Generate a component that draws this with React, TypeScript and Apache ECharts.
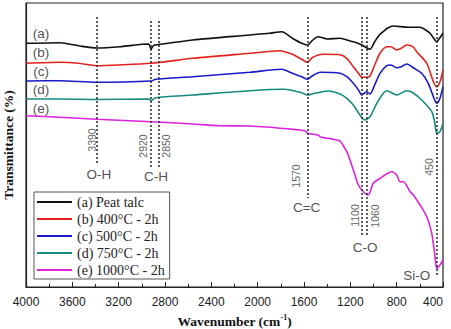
import React, { useEffect, useRef } from "react";
import * as echarts from "echarts";

// FTIR spectra of peat talc and its calcined products (offset transmittance, a.u.)
const seriesNames = [
  "(a) Peat talc",
  "(b) 400°C - 2h",
  "(c) 500°C - 2h",
  "(d) 750°C - 2h",
  "(e) 1000°C - 2h",
];
const seriesColors = ["#111111", "#e3221e", "#1b1bc8", "#168a7e", "#dc24dc"];
const curveTags = ["(a)", "(b)", "(c)", "(d)", "(e)"];
const curveTagLevels = [253.7, 234.3, 216, 197.7, 178.7];

const spectrumA: [number, number][] = [
  [4000, 243.7], [3707, 244.3], [3534, 241], [3390, 239], [3188, 240.3], [3000, 242.7],
  [2940, 243], [2920, 238], [2900, 241.5], [2880, 242], [2560, 247], [2066, 252],
  [1900, 253.7], [1792, 255.3], [1700, 248.7], [1620, 243.7], [1570, 242], [1530, 246.3],
  [1479, 250.3], [1400, 248], [1289, 248.7], [1203, 246], [1145, 244.3], [1100, 242],
  [1060, 239.3], [1030, 237.7], [990, 245.3], [950, 252], [918, 255.3], [880, 258.7],
  [832, 261], [700, 259.7], [598, 259.7], [540, 256.3], [512, 253.7], [480, 248.7],
  [454, 245.3], [430, 248.7], [400, 253.7],
];
const spectrumB: [number, number][] = [
  [4000, 223.7], [3707, 224.7], [3550, 223.7], [3390, 221.3], [3200, 222], [2920, 223.7],
  [2560, 228.7], [2066, 233.7], [1807, 236.3], [1700, 232.7], [1620, 227.7], [1570, 224.7],
  [1530, 229.3], [1435, 232.7], [1289, 232.3], [1231, 228.7], [1174, 220.3], [1130, 213.7],
  [1100, 209.7], [1060, 209.7], [1030, 211], [990, 222], [944, 233.7], [886, 240.3],
  [850, 240.3], [800, 237], [760, 238.7], [713, 242], [660, 240.3], [627, 235.3],
  [540, 223.7], [483, 205.3], [454, 200.3], [426, 205.3], [400, 217],
];
const spectrumC: [number, number][] = [
  [4000, 206], [3707, 206.3], [3390, 204.7], [2920, 206], [2880, 207.7], [2560, 210.3],
  [2066, 214.7], [1792, 217.7], [1700, 213.7], [1620, 210.3], [1570, 207.7], [1530, 211],
  [1460, 214.7], [1289, 213.7], [1231, 210.3], [1174, 203.7], [1130, 197], [1100, 192],
  [1060, 195.3], [1030, 193], [990, 202], [944, 213.7], [886, 221.3], [850, 222],
  [800, 219.3], [760, 220.3], [713, 223], [650, 218.7], [584, 213.7], [527, 203.7],
  [483, 190.3], [454, 183.7], [426, 188.7], [400, 200.3],
];
const spectrumD: [number, number][] = [
  [4000, 188], [3707, 188], [3390, 187.5], [2940, 188], [2920, 186.5], [2880, 189.3],
  [2560, 192], [2066, 196.3], [1770, 197.7], [1620, 194.3], [1570, 192], [1530, 193],
  [1390, 196], [1289, 193], [1231, 188.7], [1174, 182], [1117, 172], [1075, 167],
  [1030, 170.3], [972, 183.7], [915, 193.7], [886, 196.3], [800, 192], [713, 196.3],
  [660, 194.3], [584, 187], [497, 175.3], [470, 163.7], [454, 153.7], [426, 155.3],
  [400, 163.7],
];
const spectrumE: [number, number][] = [
  [4000, 171.3], [3707, 169.7], [3390, 167.7], [2920, 165.3], [2560, 163], [2325, 161.3],
  [2066, 161], [1634, 157], [1590, 156], [1570, 153.7], [1477, 152], [1462, 150.3],
  [1318, 147], [1289, 146], [1231, 135.3], [1203, 127], [1174, 117], [1131, 102],
  [1088, 95.3], [1045, 92], [1002, 103.7], [944, 108.7], [843, 115.3], [800, 112],
  [771, 105.3], [742, 105.3], [684, 95.3], [656, 92], [598, 82], [540, 70.3],
  [497, 53.7], [469, 30.3], [454, 18.7], [426, 22], [400, 27],
];
const spectra = [spectrumA, spectrumB, spectrumC, spectrumD, spectrumE];

// Band assignments: wavenumber, top and bottom of the dotted guide
const bandPositions = [3390, 2920, 2850, 1570, 1100, 1060, 450];
const bandTops = [270, 266, 266, 270, 270, 270, 270];
const bandBottoms = [124, 120, 120, 89, 50, 50, 12];

// Rotated wavenumber labels: text, x, y
const bandLabelTexts = ["3390", "2920", "2850", "1570", "1100", "1060", "450"];
const bandLabelX = [3430, 2987, 2794, 1669, 1160, 987, 518];
const bandLabelY = [147, 141, 141, 111, 71.5, 71, 120];

// Group names beneath the guides
const groupTexts = ["O-H", "C-H", "C=C", "C-O", "Si-O"];
const groupX = [3370, 2878, 1577, 1073, 627];
const groupY = [113, 111, 79.7, 40, 12];

const xTicks = { min: 400, max: 4000, step: 400 };

const SANS = "'Liberation Sans', Arial, sans-serif";
const SERIF = "'Liberation Serif', 'Times New Roman', serif";

export default function App() {
  const ref = useRef<HTMLDivElement>(null);

  useEffect(() => {
    if (!ref.current) return;
    const chart = echarts.init(ref.current, null, { renderer: "svg" });

    const lineSeries = spectra.map((data, i) => ({
      name: seriesNames[i],
      type: "line",
      data,
      showSymbol: false,
      symbol: "none",
      smooth: 0.25,
      lineStyle: { color: seriesColors[i], width: 1.6 },
      itemStyle: { color: seriesColors[i] },
      z: 3,
    }));

    const textItems: any[] = [];
    curveTags.forEach((t, i) =>
      textItems.push({
        value: [3870, curveTagLevels[i]],
        label: { formatter: t, fontSize: 13.5, color: "#222", fontFamily: SANS },
      })
    );
    bandLabelTexts.forEach((t, i) =>
      textItems.push({
        value: [bandLabelX[i], bandLabelY[i]],
        label: { formatter: t, rotate: 90, fontSize: 10.5, color: "#333", fontFamily: SANS },
      })
    );
    groupTexts.forEach((t, i) =>
      textItems.push({
        value: [groupX[i], groupY[i]],
        label: { formatter: t, fontSize: 13.5, color: "#222", fontFamily: SANS },
      })
    );

    const annotationSeries = {
      name: "bands",
      type: "scatter",
      symbolSize: 0,
      silent: true,
      data: textItems,
      label: { show: true, position: "inside", align: "center", verticalAlign: "middle" },
      markLine: {
        silent: true,
        symbol: ["none", "none"],
        label: { show: false },
        lineStyle: { color: "#333", width: 1.6, type: [2, 2] },
        data: bandPositions.map((w, i) => [
          { coord: [w, bandTops[i]] },
          { coord: [w, bandBottoms[i]] },
        ]),
      },
      z: 2,
    };

    chart.setOption({
      animation: false,
      backgroundColor: "#fff",
      grid: {
        left: 26,
        right: 8,
        top: 3,
        bottom: 42,
        outerBoundsMode: "none",
        containLabel: false,
        show: true,
        borderColor: "#222",
        borderWidth: 1.2,
      },
      legend: {
        data: seriesNames,
        orient: "vertical",
        left: 34,
        top: 192,
        icon: "rect",
        itemWidth: 35,
        itemHeight: 2,
        itemGap: 1,
        itemTextGap: 3,
        padding: [2, 5, 1, 3],
        borderColor: "#555",
        borderWidth: 1,
        textStyle: { fontFamily: SERIF, fontSize: 14, color: "#222", lineHeight: 16 },
      },
      xAxis: {
        type: "value",
        inverse: true,
        min: xTicks.min,
        max: xTicks.max,
        interval: xTicks.step,
        splitLine: { show: false },
        axisLine: { show: true, lineStyle: { color: "#222", width: 1.2 } },
        axisTick: { show: true, inside: true, length: 5, lineStyle: { color: "#222" } },
        minorTick: { show: true, splitNumber: 2, length: 3, lineStyle: { color: "#222" } },
        axisLabel: {
          fontFamily: SANS,
          fontSize: 12,
          color: "#222",
          margin: 9,
          alignMinLabel: "right",
          formatter: (v: number) => String(v),
        },
        name: "{a|Wavenumber (cm}{s|-1}{a|)}",
        nameLocation: "middle",
        nameGap: 26,
        nameTextStyle: {
          rich: {
            a: { fontFamily: SERIF, fontWeight: "bold", fontSize: 13.5, color: "#111" },
            s: {
              fontFamily: SERIF,
              fontWeight: "bold",
              fontSize: 8,
              color: "#111",
              padding: [0, 0, 8, 0],
            },
          },
        },
      },
      yAxis: {
        type: "value",
        min: 0,
        max: 284,
        splitLine: { show: false },
        axisLine: { show: true, lineStyle: { color: "#222", width: 1.2 } },
        axisTick: { show: false },
        axisLabel: { show: false },
        name: "Transmittance (%)",
        nameLocation: "middle",
        nameGap: 11,
        nameTextStyle: { fontFamily: SERIF, fontWeight: "bold", fontSize: 13.5, color: "#111" },
      },
      series: [...lineSeries, annotationSeries],
    });

    return () => chart.dispose();
  }, []);

  return <div ref={ref} style={{ width: 451, height: 329, position: "absolute", left: 0, top: 0 }} />;
}
